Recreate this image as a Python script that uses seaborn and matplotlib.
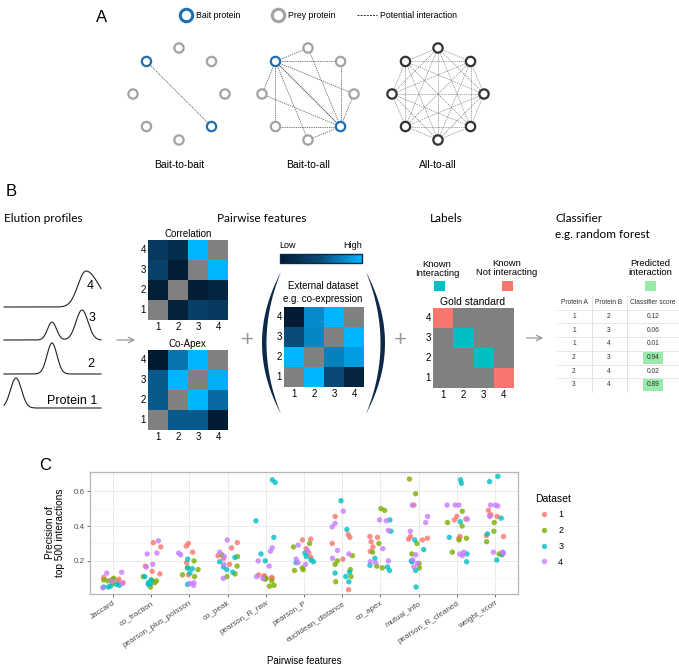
import numpy as np
import pandas as pd
import matplotlib
matplotlib.use("Agg")
import matplotlib.pyplot as plt
from matplotlib.colors import LinearSegmentedColormap, ListedColormap, Normalize
from matplotlib.cm import ScalarMappable
import seaborn as sns

# ---------------- data ----------------
features = ["Jaccard", "co_fraction", "pearson_plus_poisson", "co_peak", "pearson_R_raw",
            "pearson_P", "euclidean_distance", "co_apex", "mutual_info",
            "pearson_R_cleaned", "weight_xcorr"]
datasets = ["1", "2", "3", "4"]

# precision of top 500 interactions, one list per feature
dataset1 = [[0.105, 0.095, 0.09, 0.08, 0.075],
            [0.305, 0.28, 0.17, 0.14, 0.125],
            [0.30, 0.285, 0.25, 0.19, 0.12],
            [0.305, 0.275, 0.23, 0.215, 0.18],
            [0.12, 0.115, 0.11, 0.105, 0.10],
            [0.325, 0.32, 0.27, 0.245, 0.22],
            [0.455, 0.35, 0.335, 0.30, 0.21, 0.035],
            [0.34, 0.335, 0.31, 0.28, 0.255],
            [0.52, 0.34, 0.33, 0.325, 0.32],
            [0.455, 0.44, 0.435, 0.34, 0.33],
            [0.49, 0.465, 0.46, 0.455, 0.345, 0.34]]
dataset2 = [[0.10, 0.095, 0.09, 0.085, 0.07],
            [0.11, 0.09, 0.085, 0.075, 0.05],
            [0.20, 0.16, 0.15, 0.12, 0.11],
            [0.235, 0.225, 0.17, 0.125, 0.11],
            [0.10, 0.095, 0.085, 0.06, 0.055],
            [0.30, 0.28, 0.16, 0.15, 0.145],
            [0.23, 0.20, 0.18, 0.15, 0.11, 0.08],
            [0.50, 0.49, 0.30, 0.25, 0.17, 0.16],
            [0.67, 0.585, 0.30, 0.24, 0.185, 0.16],
            [0.485, 0.42, 0.40, 0.33, 0.32, 0.25],
            [0.42, 0.37, 0.31, 0.24, 0.235]]
dataset3 = [[0.065, 0.06, 0.055, 0.05, 0.05],
            [0.11, 0.09, 0.075, 0.07, 0.065],
            [0.21, 0.16, 0.155, 0.13, 0.065],
            [0.22, 0.195, 0.165, 0.15, 0.135],
            [0.665, 0.65, 0.43, 0.335, 0.24, 0.20],
            [0.245, 0.225, 0.205, 0.195, 0.19],
            [0.545, 0.38, 0.135, 0.13, 0.11, 0.08],
            [0.435, 0.37, 0.215, 0.175, 0.165, 0.145],
            [0.32, 0.265, 0.20, 0.195, 0.145, 0.05],
            [0.665, 0.645, 0.425, 0.335, 0.24, 0.195],
            [0.685, 0.655, 0.445, 0.355, 0.24, 0.205]]
dataset4 = [[0.135, 0.13, 0.085, 0.07, 0.045],
            [0.315, 0.245, 0.24, 0.18, 0.165],
            [0.245, 0.235, 0.075, 0.07, 0.06],
            [0.32, 0.25, 0.225, 0.18, 0.10],
            [0.275, 0.255, 0.20, 0.17, 0.11, 0.10],
            [0.29, 0.26, 0.21, 0.19, 0.18],
            [0.485, 0.415, 0.395, 0.26, 0.24, 0.215],
            [0.435, 0.43, 0.375, 0.27, 0.20, 0.195, 0.19],
            [0.52, 0.455, 0.42, 0.37, 0.235, 0.205, 0.185, 0.165],
            [0.52, 0.52, 0.52, 0.44, 0.25, 0.24, 0.23],
            [0.52, 0.52, 0.515, 0.455, 0.25, 0.25, 0.245]]
dataset_colors = ["#F8766D", "#7CAE00", "#00BFC4", "#C77CFF"]

# pairwise feature matrices (rows 4..1 top to bottom, columns 1..4), nan = self
corr_matrix = [[0.30, 0.20, 1.00, np.nan],
               [0.38, 0.03, np.nan, 1.00],
               [0.06, np.nan, 0.03, 0.12],
               [np.nan, 0.08, 0.36, 0.30]]
coapex_matrix = [[0.00, 0.69, 1.00, np.nan],
                 [0.56, 1.00, np.nan, 0.97],
                 [0.56, np.nan, 1.00, 0.64],
                 [np.nan, 0.56, 0.56, 0.02]]
external_matrix = [[0.02, 0.80, 1.00, np.nan],
                   [0.48, 0.78, np.nan, 1.00],
                   [1.00, np.nan, 0.75, 0.88],
                   [np.nan, 1.00, 0.45, 0.10]]
# 0 = unknown, 1 = known interacting, 2 = known not interacting
gold_matrix = [[2, 0, 0, 0],
               [0, 1, 0, 0],
               [0, 0, 1, 0],
               [0, 0, 0, 2]]
row_labels = [4, 3, 2, 1]
col_labels = [1, 2, 3, 4]

protein_a = [1, 1, 1, 2, 2, 3]
protein_b = [2, 3, 4, 3, 4, 4]
scores = [0.12, 0.06, 0.01, 0.94, 0.02, 0.89]

plt.rcParams["font.family"] = ["Liberation Sans", "DejaVu Sans"]

W, H = 679, 666
fig = plt.figure(figsize=(W / 100, H / 100), dpi=100)
bg = fig.add_axes([0, 0, 1, 1])
bg.set_xlim(0, W)
bg.set_ylim(H, 0)
bg.axis("off")


def box(x0, y0, x1, y1):
    return [x0 / W, 1 - y1 / H, (x1 - x0) / W, (y1 - y0) / H]


# ---------------- panel A ----------------
bait_col = "#1f6fae"
prey_col = "#a3a3a3"
bg.text(102, 17, "A", fontsize=12, va="center", ha="center")
bg.scatter([186], [15], s=80, facecolors="white", edgecolors=bait_col, linewidths=2.2, zorder=3)
bg.text(196, 15, "Bait protein", fontsize=6.3, va="center")
bg.scatter([278], [15], s=80, facecolors="white", edgecolors=prey_col, linewidths=2.2, zorder=3)
bg.text(288, 15, "Prey protein", fontsize=6.3, va="center")
bg.plot([357, 377], [15, 15], ls=(0, (2, 1.2)), color="#333333", lw=0.7)
bg.text(380, 15, "Potential interaction", fontsize=6.3, va="center")


def octagon(cx, cy, r=46):
    ang = np.deg2rad(90 + 45 * np.arange(8))
    return cx + r * np.cos(ang), cy - r * np.sin(ang)


nets = [(179, "Bait-to-bait"), (308, "Bait-to-all"), (438, "All-to-all")]
for k, (cx, name) in enumerate(nets):
    xs, ys = octagon(cx, 94)
    if k == 0:
        pairs = [(1, 5)]
    elif k == 1:
        pairs = [(b, j) for b in (1, 5) for j in range(8) if j != b]
    else:
        pairs = [(i, j) for i in range(8) for j in range(i + 1, 8)]
    lc = "#888888" if k == 2 else "#555555"
    for i, j in pairs:
        bg.plot([xs[i], xs[j]], [ys[i], ys[j]], ls=(0, (2, 1.2)), color=lc, lw=0.5, zorder=1)
    cols = ["#333333"] * 8 if k == 2 else [bait_col if i in (1, 5) else prey_col for i in range(8)]
    bg.scatter(xs, ys, s=45, facecolors="white", edgecolors=cols, linewidths=1.6, zorder=3)
    bg.text(cx, 165, name, fontsize=7.5, ha="center", va="center")

# ---------------- panel B ----------------
title_font = ["Lato", "DejaVu Sans"]
bg.text(6, 191, "B", fontsize=12, va="center")
bg.text(4, 218, "Elution profiles", fontsize=8.5, va="center", family=title_font)
bg.text(262, 218, "Pairwise features", fontsize=8.5, va="center", ha="center", family=title_font)
bg.text(446, 218, "Labels", fontsize=8.5, va="center", ha="center", family=title_font)
bg.text(556, 218, "Classifier", fontsize=8.5, va="center", family=title_font)
bg.text(555, 234, "e.g. random forest", fontsize=8.5, va="center", family=title_font)


def peak(x, mu, amp, sl, sr):
    s = np.where(x < mu, sl, sr)
    return amp * np.exp(-0.5 * ((x - mu) / s) ** 2)


xe = np.linspace(4, 101, 400)
profiles = [(307, [(86, 36, 8, 13)], "4", 94, 286),
            (340, [(52, 18, 4.5, 4.5), (82, 30, 6, 6)], "3", 95, 318),
            (374, [(52, 31, 5, 5)], "2", 94, 364),
            (408, [(16, 30, 5.5, 5.5)], "Protein 1", 97, 401)]
for base, peaks, lab, lx, ly in profiles:
    yv = np.zeros_like(xe)
    for mu, amp, sl, sr in peaks:
        yv += peak(xe, mu, amp, sl, sr)
    bg.plot(xe, base - yv, color="#222222", lw=0.8)
    bg.text(lx, ly, lab, fontsize=9, ha="right", va="center")

# arrows and plus signs
bg.annotate("", xy=(138, 340), xytext=(114, 340),
            arrowprops=dict(arrowstyle="->", color="#999999", lw=0.9))
bg.annotate("", xy=(546, 338), xytext=(524, 338),
            arrowprops=dict(arrowstyle="->", color="#999999", lw=0.9))
bg.text(247, 340, "+", fontsize=16, color="#999999", ha="center", va="center")
bg.text(400, 340, "+", fontsize=16, color="#999999", ha="center", va="center")

blues = LinearSegmentedColormap.from_list("lowhigh", ["#021a30", "#0a4d7c", "#00b5ff"])


def feature_heatmap(values, rect, cmap, vmin=0, vmax=1):
    ax = fig.add_axes(box(*rect))
    df = pd.DataFrame(values, index=row_labels, columns=col_labels)
    sns.heatmap(df, ax=ax, cmap=cmap, vmin=vmin, vmax=vmax, cbar=False)
    ax.set_facecolor("#808080")
    ax.tick_params(length=0, labelsize=7, pad=1.5)
    ax.set_yticklabels(ax.get_yticklabels(), rotation=0)
    ax.set_xlabel("")
    ax.set_ylabel("")
    return ax


feature_heatmap(corr_matrix, (148, 240, 228, 320), blues)
bg.text(188, 234, "Correlation", fontsize=7, ha="center", va="center")
feature_heatmap(coapex_matrix, (148, 350, 228, 430), blues)
bg.text(187, 344, "Co-Apex", fontsize=7, ha="center", va="center")
feature_heatmap(external_matrix, (284, 307, 364, 387), blues)
bg.text(323, 286, "External dataset", fontsize=7, ha="center", va="center")
bg.text(323, 299, "e.g. co-expression", fontsize=7, ha="center", va="center")

gold_cmap = ListedColormap(["#808080", "#00bfc4", "#f8766d"])
feature_heatmap(gold_matrix, (433, 308, 514, 388), gold_cmap, vmin=-0.5, vmax=2.5)
bg.text(473, 302, "Gold standard", fontsize=7.5, ha="center", va="center")

# low-high colour bar
cax = fig.add_axes(box(280, 254, 362, 263))
cb = fig.colorbar(ScalarMappable(Normalize(0, 1), blues), cax=cax, orientation="horizontal")
cb.set_ticks([])
cb.outline.set_edgecolor("#0a2a4a")
cb.outline.set_linewidth(1.0)
bg.text(288, 246, "Low", fontsize=6.5, ha="center", va="center")
bg.text(353, 246, "High", fontsize=6.5, ha="center", va="center")

# big brackets around the external dataset
tt = np.linspace(-1, 1, 100)
py = 343 + 71 * tt
outer = 281 - 19 * (1 - tt ** 2)
inner = 281 - 14.5 * (1 - tt ** 2)
bg.fill(np.r_[outer, inner[::-1]], np.r_[py, py[::-1]], color="#0c2a48", lw=0)
bg.fill(647 - np.r_[outer, inner[::-1]], np.r_[py, py[::-1]], color="#0c2a48", lw=0)

# label legend
bg.text(437, 269, "Known\nInteracting", fontsize=6.8, ha="center", va="center", linespacing=1.1)
bg.text(507, 268, "Known\nNot interacting", fontsize=6.8, ha="center", va="center", linespacing=1.1)
bg.add_patch(plt.Rectangle((434, 281), 11, 10, color="#00bfc4", lw=0))
bg.add_patch(plt.Rectangle((502, 281), 11, 10, color="#f8766d", lw=0))
bg.text(650, 268, "Predicted\ninteraction", fontsize=6.8, ha="center", va="center", linespacing=1.1)
bg.add_patch(plt.Rectangle((645, 281), 11, 10, color="#98eaa8", lw=0))

# classifier table
col_x = [574, 609, 653]
heads = ["Protein A", "Protein B", "Classifier score"]
for cx_, hd in zip(col_x, heads):
    bg.text(cx_, 303, hd, fontsize=4.8, ha="center", va="center", color="#333333")
for xv in (592, 627):
    bg.plot([xv, xv], [296, 392], color="#dddddd", lw=0.6)
for i in range(len(scores)):
    yr = 316.5 + 13.7 * i
    bg.plot([557, 679], [yr - 6.8, yr - 6.8], color="#e3e3e3", lw=0.6)
    if scores[i] > 0.5:
        bg.add_patch(plt.Rectangle((643, yr - 6), 20, 12, color="#98eaa8", lw=0))
    bg.text(col_x[0], yr, str(protein_a[i]), fontsize=4.8, ha="center", va="center", color="#333333")
    bg.text(col_x[1], yr, str(protein_b[i]), fontsize=4.8, ha="center", va="center", color="#333333")
    bg.text(col_x[2], yr, f"{scores[i]:.2f}", fontsize=4.8, ha="center", va="center", color="#333333")

# ---------------- panel C ----------------
bg.text(45, 466, "C", fontsize=12, va="center", ha="center")
rows = []
for ds, vals in zip(datasets, [dataset1, dataset2, dataset3, dataset4]):
    for f, v in zip(features, vals):
        for p in v:
            rows.append((f, ds, p))
df = pd.DataFrame(rows, columns=["feature", "Dataset", "precision"])

axc = fig.add_axes(box(90, 472, 518, 594))
np.random.seed(7)
sns.stripplot(data=df, x="feature", y="precision", hue="Dataset", order=features,
              hue_order=datasets, palette=dataset_colors, jitter=0.28, size=3.9,
              alpha=0.8, linewidth=0, ax=axc)
axc.set_xlim(-0.6, len(features) - 0.4)
axc.set_ylim(0.01, 0.71)
axc.set_yticks([0.2, 0.4, 0.6])
axc.set_yticks([0.1, 0.3, 0.5, 0.7], minor=True)
axc.set_axisbelow(True)
axc.grid(True, which="major", color="#ebebeb", lw=0.7)
axc.grid(True, which="minor", axis="y", color="#f2f2f2", lw=0.4)
axc.tick_params(which="major", length=2.5, color="#555555", width=0.6, labelsize=5.8,
                labelcolor="#4d4d4d", pad=1.5)
axc.tick_params(which="minor", length=0)
for sp in axc.spines.values():
    sp.set_color("#b5b5b5")
    sp.set_linewidth(0.9)
plt.setp(axc.get_xticklabels(), rotation=33, ha="right", rotation_mode="anchor")
axc.set_xlabel("Pairwise features", fontsize=7, labelpad=5)
axc.set_ylabel("Precision of\ntop 500 interactions", fontsize=7.3, labelpad=6, linespacing=1.0)
leg = axc.legend(title="Dataset", loc="upper left", bbox_to_anchor=(1.02, 0.89), frameon=False,
                 fontsize=6.5, title_fontsize=7.5, handletextpad=0.6, labelspacing=0.75,
                 markerscale=1.0)
leg._legend_box.align = "left"

fig.savefig("out.png", dpi=100)
